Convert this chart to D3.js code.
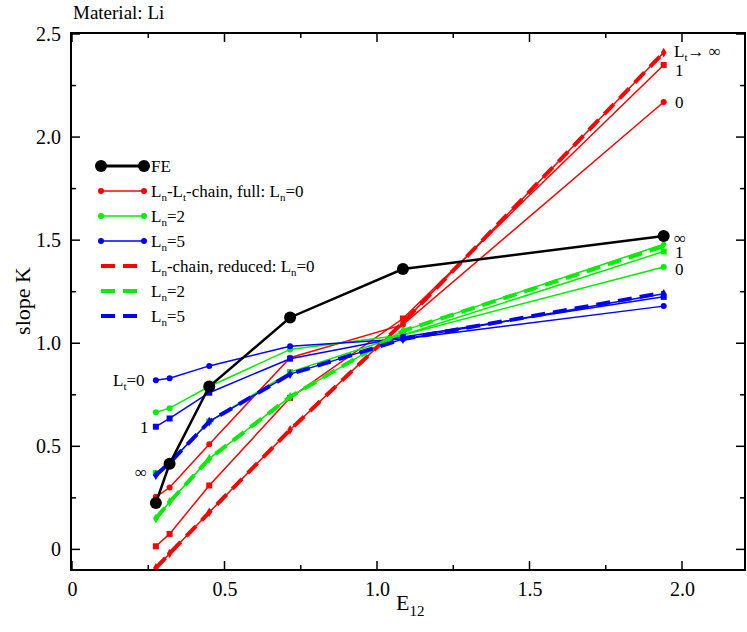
<!DOCTYPE html>
<html><head><meta charset="utf-8">
<script src="https://cdn.jsdelivr.net/npm/d3@7.9.0/dist/d3.min.js"></script>
<style>body{margin:0;background:#fff}text{font-family:"Liberation Serif",serif}</style>
</head><body><svg id="chart" width="747" height="632"></svg>
<script>
const xs = [0.275, 0.32, 0.45, 0.715, 1.085, 1.94];
const fe = [0.225, 0.415, 0.79, 1.125, 1.36, 1.52];
const red0 = [0.255, 0.30, 0.51, 0.93, 1.09, 2.17];
const red1 = [0.015, 0.075, 0.31, 0.735, 1.12, 2.35];
const redInf = [-0.09, -0.02, 0.18, 0.58, 1.10, 2.41];
const green0 = [0.665, 0.685, 0.79, 0.97, 1.04, 1.37];
const green1 = [0.37, 0.42, 0.62, 0.86, 1.04, 1.445];
const greenInf = [0.15, 0.23, 0.44, 0.74, 1.06, 1.48];
const blue0 = [0.82, 0.83, 0.89, 0.985, 1.02, 1.18];
const blue1 = [0.595, 0.635, 0.76, 0.925, 1.03, 1.225];
const blueInf = [0.36, 0.42, 0.62, 0.85, 1.02, 1.24];
const redRed = [-0.09, -0.02, 0.18, 0.58, 1.10, 2.41];
const greenRed = [0.15, 0.23, 0.44, 0.74, 1.06, 1.47];
const blueRed = [0.36, 0.42, 0.62, 0.85, 1.02, 1.245];
const xTicks = [0, 0.5, 1.0, 1.5, 2.0];
const yTicks = [0, 0.5, 1.0, 1.5, 2.0, 2.5];

const RED = '#ff0000', GREEN = '#00ee00', BLUE = '#0000ff';
const svg = d3.select('#chart');
const x = d3.scaleLinear().domain([0, 2.2]).range([72, 743]);
const y = d3.scaleLinear().domain([-0.1, 2.5]).range([570, 34]);

const plot = svg.append('g');
plot.append('clipPath').attr('id', 'clip').append('rect')
  .attr('x', 71).attr('y', 33).attr('width', 674).attr('height', 537);
const g = plot.append('g').attr('clip-path', 'url(#clip)');
const line = d3.line().x((d, i) => x(xs[i])).y(d => y(d));

function series(vals, color, width, dash, marker, r) {
  g.append('path').datum(vals).attr('d', line).attr('fill', 'none')
    .attr('stroke', color).attr('stroke-width', width).attr('stroke-dasharray', dash || null);
  if (!marker) return;
  vals.forEach((v, i) => {
    const cx = x(xs[i]), cy = y(v);
    if (marker === 'circle') g.append('circle').attr('cx', cx).attr('cy', cy).attr('r', r).attr('fill', color);
    else if (marker === 'square') g.append('rect').attr('x', cx - r).attr('y', cy - r).attr('width', 2 * r).attr('height', 2 * r).attr('fill', color);
    else g.append('path').attr('d', d3.symbol(d3.symbolDiamond, r * r * 3)()).attr('transform', `translate(${cx},${cy})`).attr('fill', color);
  });
}

series(redInf, RED, 1.5, null, 'diamond', 3);
series(red1, RED, 1.5, null, 'square', 3);
series(red0, RED, 1.5, null, 'circle', 3);
series(greenInf, GREEN, 1.5, null, 'diamond', 3);
series(green1, GREEN, 1.5, null, 'square', 3);
series(green0, GREEN, 1.5, null, 'circle', 3);
series(blueInf, BLUE, 1.5, null, 'diamond', 3);
series(blue1, BLUE, 1.5, null, 'square', 3);
series(blue0, BLUE, 1.5, null, 'circle', 3);
series(redRed, RED, 4, '14,8');
series(greenRed, GREEN, 4, '14,8');
series(blueRed, BLUE, 4, '14,8');
series(fe, '#000', 2.5, null, 'circle', 6);

// frame and axes
svg.append('rect').attr('x', 71).attr('y', 33).attr('width', 674).attr('height', 537)
  .attr('fill', 'none').attr('stroke', '#000').attr('stroke-width', 2);
const xAx = svg.append('g').attr('transform', 'translate(0,570)')
  .call(d3.axisBottom(x).tickValues(xTicks).tickSize(0).tickPadding(12).tickFormat(d => d === 0 ? '0' : d3.format('.1f')(d)));
const yAx = svg.append('g').attr('transform', 'translate(71,0)')
  .call(d3.axisLeft(y).tickValues(yTicks).tickSize(0).tickPadding(10).tickFormat(d => d === 0 ? '0' : d3.format('.1f')(d)));
[xAx, yAx].forEach(a => { a.select('.domain').remove(); a.selectAll('text').attr('font-size', 20).attr('font-family', 'Liberation Serif').attr('fill', '#000'); });
const xMinor = d3.range(0, 2.21, 0.25), yMinor = d3.range(-0.0, 2.51, 0.25);
xMinor.forEach(v => {
  const L = Math.abs(v * 2 - Math.round(v * 2)) < 1e-6 ? 9 : 5;
  svg.append('line').attr('x1', x(v)).attr('x2', x(v)).attr('y1', 570).attr('y2', 570 - L).attr('stroke', '#000').attr('stroke-width', 1.5);
  svg.append('line').attr('x1', x(v)).attr('x2', x(v)).attr('y1', 33).attr('y2', 33 + L).attr('stroke', '#000').attr('stroke-width', 1.5);
});
yMinor.forEach(v => {
  const L = Math.abs(v * 2 - Math.round(v * 2)) < 1e-6 ? 9 : 5;
  svg.append('line').attr('x1', 71).attr('x2', 71 + L).attr('y1', y(v)).attr('y2', y(v)).attr('stroke', '#000').attr('stroke-width', 1.5);
  svg.append('line').attr('x1', 745).attr('x2', 745 - L).attr('y1', y(v)).attr('y2', y(v)).attr('stroke', '#000').attr('stroke-width', 1.5);
});

svg.append('text').attr('x', 73).attr('y', 19).attr('font-size', 19).text('Material: Li');
svg.append('text').attr('transform', 'translate(30,301) rotate(-90)').attr('text-anchor', 'middle').attr('font-size', 22).text('slope K');
svg.append('text').attr('x', 396).attr('y', 610).attr('font-size', 22).html('E<tspan font-size="15" dy="6">12</tspan>');

// legend
const legend = [
  { c: '#000', w: 3, dash: null, r: 6, label: 'FE' },
  { c: RED, w: 1.5, dash: null, r: 3, label: 'L<tspan font-size="11" dy="4">n</tspan><tspan dy="-4">-L</tspan><tspan font-size="11" dy="4">t</tspan><tspan dy="-4">-chain, full: L</tspan><tspan font-size="11" dy="4">n</tspan><tspan dy="-4">=0</tspan>' },
  { c: GREEN, w: 1.5, dash: null, r: 3, label: 'L<tspan font-size="11" dy="4">n</tspan><tspan dy="-4">=2</tspan>' },
  { c: BLUE, w: 1.5, dash: null, r: 3, label: 'L<tspan font-size="11" dy="4">n</tspan><tspan dy="-4">=5</tspan>' },
  { c: RED, w: 4, dash: '14,8', r: 0, label: 'L<tspan font-size="11" dy="4">n</tspan><tspan dy="-4">-chain, reduced: L</tspan><tspan font-size="11" dy="4">n</tspan><tspan dy="-4">=0</tspan>' },
  { c: GREEN, w: 4, dash: '14,8', r: 0, label: 'L<tspan font-size="11" dy="4">n</tspan><tspan dy="-4">=2</tspan>' },
  { c: BLUE, w: 4, dash: '14,8', r: 0, label: 'L<tspan font-size="11" dy="4">n</tspan><tspan dy="-4">=5</tspan>' }
];
legend.forEach((d, i) => {
  const ly = 166 + i * 25;
  svg.append('line').attr('x1', 101).attr('x2', 144).attr('y1', ly).attr('y2', ly)
    .attr('stroke', d.c).attr('stroke-width', d.w).attr('stroke-dasharray', d.dash);
  if (d.r) [101, 144].forEach(px => svg.append('circle').attr('cx', px).attr('cy', ly).attr('r', d.r).attr('fill', d.c));
  svg.append('text').attr('x', 151).attr('y', ly + 6).attr('font-size', 17).html(d.label);
});

// annotations
const ann = [
  [674, 57, 'L<tspan font-size="11" dy="4">t</tspan><tspan dy="-4">→ ∞</tspan>'], [675, 76, '1'], [675, 108, '0'],
  [674, 244, '∞'], [675, 258, '1'], [675, 275, '0'],
  [113, 386, 'L<tspan font-size="11" dy="4">t</tspan><tspan dy="-4">=0</tspan>'], [140, 433, '1'], [135, 478, '∞']
];
ann.forEach(a => svg.append('text').attr('x', a[0]).attr('y', a[1]).attr('font-size', 17).html(a[2]));
</script></body></html>
